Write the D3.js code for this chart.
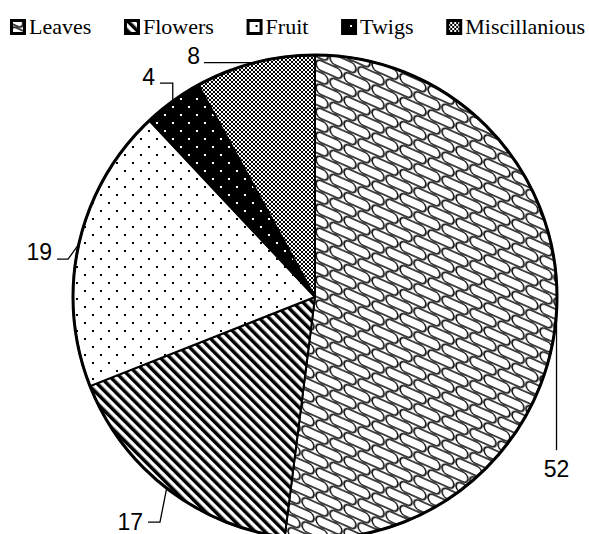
<!DOCTYPE html>
<meta charset="utf-8">
<style>
  body { margin: 0; background: #fff; }
  .legend text { font: 22px "Liberation Serif", "Times New Roman", serif; fill: #000; }
  .lbl { font: 23px "Liberation Sans", Arial, sans-serif; fill: #000; }
</style>
<svg width="589" height="534"></svg>
<script src="https://d3js.org/d3.v7.min.js"></script>
<script>
  // chart data
  var categories = ["Leaves", "Flowers", "Fruit", "Twigs", "Miscillanious"];
  var values = [52, 17, 19, 4, 8];
  var patternIds = ["pLeaves", "pFlowers", "pFruit", "pTwigs", "pMisc"];

  // leader line legs, relative to the point on the rim at mid angle
  var leaderLegs = [
    [[0, 138]],
    [[-6.7, 34], [-18.7, 34]],
    [[-10.8, 15], [-21.8, 15]],
    [[0, -18], [-12.8, -18]],
    [[-50.8, 0]]
  ];
  var labelOffsets = [[0, 165, "middle"], [-23.7, 42, "end"], [-26.8, 16, "end"], [-17.8, -16, "end"], [-54.8, 1, "end"]];

  var svg = d3.select("svg"),
    cx = 315, cy = 297, radius = 242;

  var defs = svg.append("defs");

  // Leaves: skewed brick of rounded cells (shingle look)
  var p1 = defs.append("pattern").attr("id", "pLeaves").attr("patternUnits", "userSpaceOnUse")
    .attr("width", 28).attr("height", 24).attr("patternTransform", "skewY(24)");
  p1.append("rect").attr("width", 28).attr("height", 24).attr("fill", "#fff");
  [[1, 1], [-13, 13], [15, 13]].forEach(function (o) {
    p1.append("rect").attr("x", o[0]).attr("y", o[1]).attr("width", 26).attr("height", 10)
      .attr("rx", 5).attr("fill", "none").attr("stroke", "#000").attr("stroke-width", 1.6);
  });

  // Flowers: wide diagonal stripes
  var p2 = defs.append("pattern").attr("id", "pFlowers").attr("patternUnits", "userSpaceOnUse")
    .attr("width", 7).attr("height", 7).attr("patternTransform", "rotate(-45)");
  p2.append("rect").attr("width", 7).attr("height", 7).attr("fill", "#fff");
  p2.append("rect").attr("width", 3.5).attr("height", 7).attr("fill", "#000");

  // Fruit: sparse dots
  var p3 = defs.append("pattern").attr("id", "pFruit").attr("patternUnits", "userSpaceOnUse")
    .attr("width", 16).attr("height", 16);
  p3.append("rect").attr("width", 16).attr("height", 16).attr("fill", "#fff");
  p3.append("rect").attr("x", 1).attr("y", 1).attr("width", 2).attr("height", 2).attr("fill", "#000");
  p3.append("rect").attr("x", 9).attr("y", 9).attr("width", 2).attr("height", 2).attr("fill", "#000");

  // Twigs: black with white dots
  var p4 = defs.append("pattern").attr("id", "pTwigs").attr("patternUnits", "userSpaceOnUse")
    .attr("width", 16).attr("height", 16);
  p4.append("rect").attr("width", 16).attr("height", 16).attr("fill", "#000");
  p4.append("rect").attr("x", 1).attr("y", 1).attr("width", 2).attr("height", 2).attr("fill", "#fff");
  p4.append("rect").attr("x", 9).attr("y", 9).attr("width", 2).attr("height", 2).attr("fill", "#fff");

  // Miscillanious: small checkerboard
  var p5 = defs.append("pattern").attr("id", "pMisc").attr("patternUnits", "userSpaceOnUse")
    .attr("width", 4).attr("height", 4);
  p5.append("rect").attr("width", 4).attr("height", 4).attr("fill", "#fff");
  p5.append("rect").attr("width", 2).attr("height", 2).attr("fill", "#000");
  p5.append("rect").attr("x", 2).attr("y", 2).attr("width", 2).attr("height", 2).attr("fill", "#000");

  var data = categories.map(function (c, i) { return { name: c, value: values[i], idx: i }; });

  var pie = d3.pie().sort(null).value(function (d) { return d.value; });
  var arc = d3.arc().innerRadius(0).outerRadius(radius);
  var arcs = pie(data);

  var g = svg.append("g").attr("transform", "translate(" + cx + "," + cy + ")");

  g.selectAll(".slice")
    .data(arcs)
    .enter().append("path")
    .attr("class", "slice")
    .attr("d", arc)
    .attr("fill", function (d) { return "url(#" + patternIds[d.data.idx] + ")"; })
    .attr("stroke", "#000")
    .attr("stroke-width", 2)
    .attr("stroke-linejoin", "round");

  g.append("circle").attr("r", radius).attr("fill", "none").attr("stroke", "#000").attr("stroke-width", 3);

  // leader lines and labels
  arcs.forEach(function (d, i) {
    var a = (d.startAngle + d.endAngle) / 2;
    var x0 = radius * Math.sin(a), y0 = -radius * Math.cos(a);
    var pts = [[x0, y0]].concat(leaderLegs[i].map(function (p) { return [x0 + p[0], y0 + p[1]]; }));
    g.append("path")
      .attr("d", d3.line()(pts))
      .attr("fill", "none").attr("stroke", "#000").attr("stroke-width", 1.3);
    g.append("text")
      .attr("class", "lbl")
      .attr("x", x0 + labelOffsets[i][0])
      .attr("y", y0 + labelOffsets[i][1])
      .attr("text-anchor", labelOffsets[i][2])
      .text(d.data.value);
  });

  // legend
  var legend = svg.append("g").attr("class", "legend");
  var items = legend.selectAll("g").data(data).enter().append("g");
  items.append("rect")
    .attr("x", 1.5).attr("y", 20.5).attr("width", 13).attr("height", 13)
    .attr("fill", function (d) { return "url(#" + patternIds[d.idx] + ")"; })
    .attr("stroke", "#000").attr("stroke-width", 3);
  items.append("text").attr("x", 19).attr("y", 34).text(function (d) { return d.name; });

  var widths = [];
  items.each(function () { widths.push(19 + d3.select(this).select("text").node().getComputedTextLength()); });
  var left = 10, right = 585;
  var gap = (right - left - d3.sum(widths)) / (widths.length - 1);
  var pos = left;
  items.attr("transform", function (d, i) { var t = "translate(" + pos + ",0)"; pos += widths[i] + gap; return t; });
</script>
